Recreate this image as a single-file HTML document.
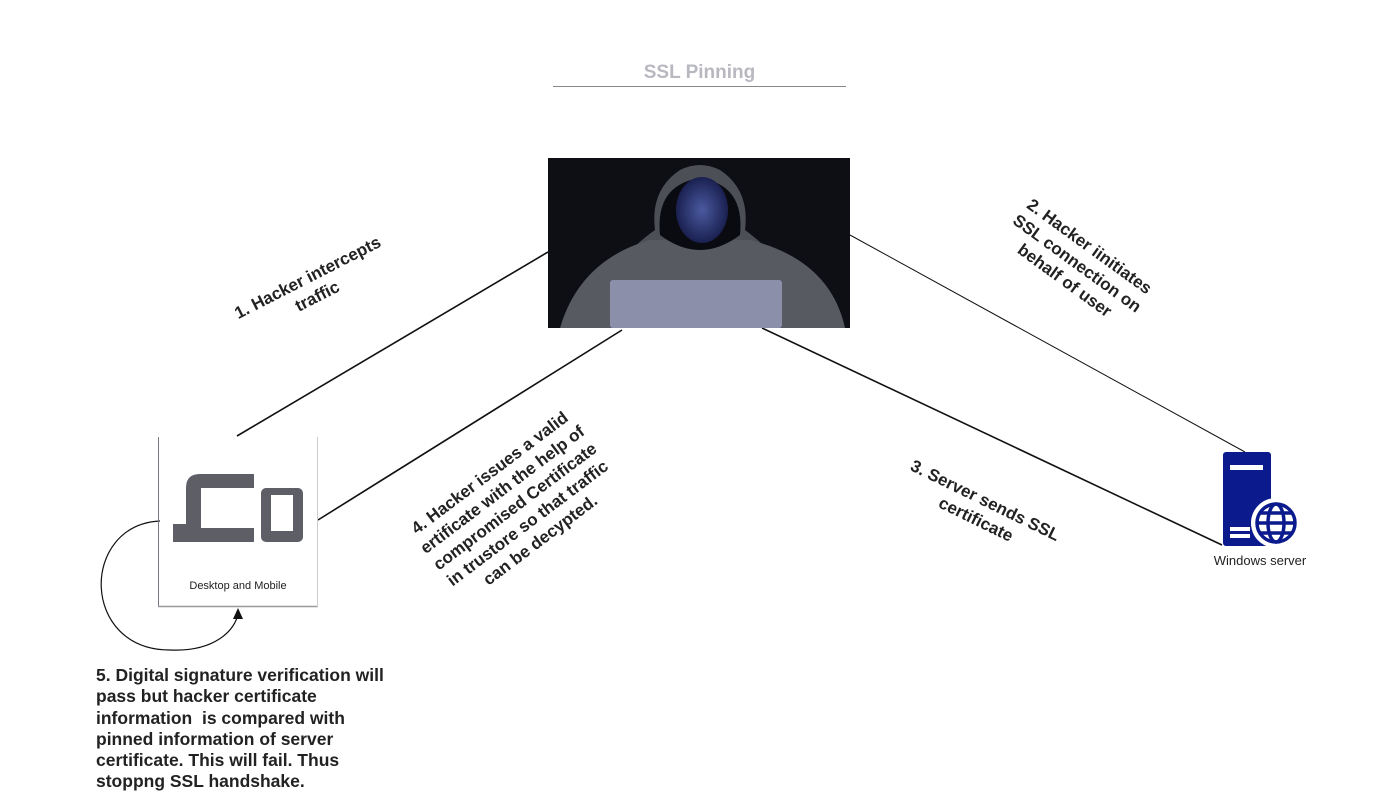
<!DOCTYPE html>
<html><head><style>
body{margin:0;width:1400px;height:794px;background:#fff;position:relative;overflow:hidden;font-family:"Liberation Sans",sans-serif}
.lbl{position:absolute;font-weight:bold;font-size:17px;color:#222;text-align:center;line-height:21px;white-space:nowrap;transform-origin:center center}
</style></head><body>
<div style="position:absolute;left:553px;top:62px;width:293px;text-align:center;font-weight:bold;font-size:19px;color:#b8b8c0">SSL Pinning</div>
<div style="position:absolute;left:553px;top:86px;width:293px;height:1px;background:#888"></div>

<svg width="1400" height="794" style="position:absolute;left:0;top:0">
<defs>
<radialGradient id="face" cx="50%" cy="50%" r="50%"><stop offset="0" stop-color="#4a5aa0"/><stop offset="1" stop-color="#1a2050"/></radialGradient>
</defs>
<g stroke="#111" fill="none">
<line x1="237" y1="436" x2="548" y2="252" stroke-width="1.6"/>
<line x1="318" y1="520" x2="622" y2="330" stroke-width="1.6"/>
<line x1="762" y1="328" x2="1222" y2="545" stroke-width="1.6"/>
<line x1="850" y1="235" x2="1245" y2="452" stroke-width="1"/>
<path d="M160 521 C 80 525, 80 650, 170 650 C 215 652, 235 630, 238 614" stroke-width="1.2"/>
</g>
<polygon points="238,608 233,619 243,619" fill="#111"/>
<rect x="548" y="158" width="302" height="170" fill="#0d0f14"/>
<path d="M600 328 L610 270 Q640 240 655 230 Q650 190 680 170 Q700 160 720 170 Q750 190 745 230 Q765 245 790 270 L845 328 Z" fill="#4d4f57"/>
<path d="M560 328 Q580 260 650 240 L750 240 Q830 260 845 328 Z" fill="#585a62"/>
<path d="M660 235 Q655 185 700 178 Q745 185 740 235 Q720 250 700 250 Q680 250 660 235Z" fill="#0a0b10"/>
<ellipse cx="702" cy="210" rx="26" ry="33" fill="url(#face)"/>
<rect x="610" y="280" width="172" height="48" rx="3" fill="#8b8fa9"/>
<line x1="158.5" y1="437" x2="158.5" y2="607" stroke="#778" stroke-width="1"/>
<line x1="158" y1="606.5" x2="318" y2="606.5" stroke="#999" stroke-width="1.5"/>
<line x1="317.5" y1="437" x2="317.5" y2="607" stroke="#ccc" stroke-width="1"/>
<path d="M254 474 L200 474 Q186 474 186 488 L186 524 L173 524 L173 542 L254 542 L254 528 L201 528 L201 488 L254 488 Z" fill="#5d5e66"/>
<rect x="261" y="488" width="42" height="54" rx="5" fill="#5d5e66"/>
<rect x="271" y="495" width="22" height="36" fill="#fff"/>
<rect x="1223" y="452" width="48" height="94" rx="3" fill="#0b1a8c"/>
<rect x="1230" y="465" width="33" height="5" fill="#fff"/>
<rect x="1230" y="527" width="20" height="4" fill="#fff"/>
<rect x="1230" y="534" width="20" height="4" fill="#fff"/>
<circle cx="1276" cy="523" r="25" fill="#fff"/>
<g fill="none" stroke="#0b1a8c" stroke-width="3.5">
<circle cx="1276" cy="523" r="19"/>
<ellipse cx="1276" cy="523" rx="8" ry="19"/>
<line x1="1257" y1="523" x2="1295" y2="523"/>
<line x1="1260" y1="513" x2="1292" y2="513"/>
<line x1="1260" y1="533" x2="1292" y2="533"/>
</g>
</svg>
<div style="position:absolute;left:158px;top:580px;width:160px;text-align:center;font-size:11px;color:#222">Desktop and Mobile</div>
<div style="position:absolute;left:1195px;top:553px;width:130px;text-align:center;font-size:13px;color:#222">Windows server</div>

<div class="lbl" style="left:230px;top:266px;width:165px;transform:rotate(-27deg)">1. Hacker intercepts<br>traffic</div>
<div class="lbl" style="left:992px;top:232px;width:170px;transform:rotate(36deg)">2. Hacker iinitiates<br>SSL connection on<br>behalf of user</div>
<div class="lbl" style="left:898px;top:489px;width:165px;transform:rotate(26deg)">3. Server sends SSL<br>certificate</div>
<div class="lbl" style="left:395px;top:454px;width:240px;transform:rotate(-37deg)">4. Hacker issues a valid<br>ertificate with the help of<br>compromised Certificate<br>in trustore so that traffic<br>can be decypted.</div>
<div class="lbl" style="left:96px;top:665px;text-align:left;font-size:17.5px;line-height:21.3px">5. Digital signature verification will<br>pass but hacker certificate<br>information &nbsp;is compared with<br>pinned information of server<br>certificate. This will fail. Thus<br>stoppng SSL handshake.</div>
</body></html>
